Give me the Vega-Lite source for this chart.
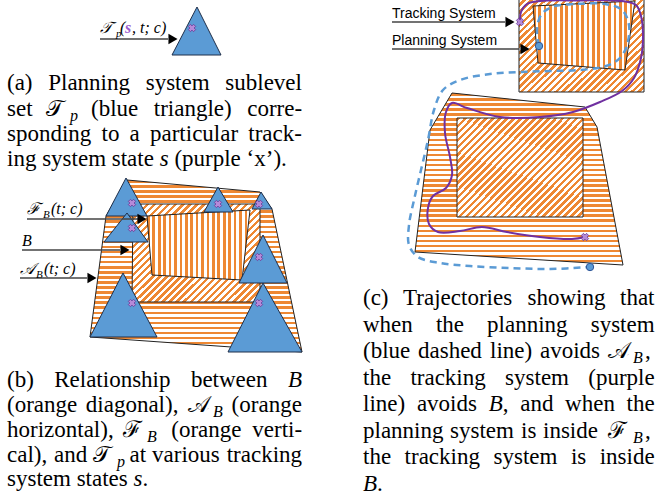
{
"$schema":"https://vega.github.io/schema/vega-lite/v6.json",
"width":661,"height":502,"autosize":{"type":"none"},"padding":0,"background":"white",
"config":{"view":{"stroke":null},
"style":{
"hs":{"fill":{"gradient":"linear","x1":0,"y1":0,"x2":0,"y2":1,"stops":[
{"offset":0,"color":"#e83"},{"offset":0.0147,"color":"#e83"},{"offset":0.0147,"color":"#fff"},{"offset":0.0294,"color":"#fff"},
{"offset":0.0294,"color":"#e83"},{"offset":0.0441,"color":"#e83"},{"offset":0.0441,"color":"#fff"},{"offset":0.0588,"color":"#fff"},
{"offset":0.0588,"color":"#e83"},{"offset":0.0735,"color":"#e83"},{"offset":0.0735,"color":"#fff"},{"offset":0.0882,"color":"#fff"},
{"offset":0.0882,"color":"#e83"},{"offset":0.1029,"color":"#e83"},{"offset":0.1029,"color":"#fff"},{"offset":0.1176,"color":"#fff"},
{"offset":0.1176,"color":"#e83"},{"offset":0.1324,"color":"#e83"},{"offset":0.1324,"color":"#fff"},{"offset":0.1471,"color":"#fff"},
{"offset":0.1471,"color":"#e83"},{"offset":0.1618,"color":"#e83"},{"offset":0.1618,"color":"#fff"},{"offset":0.1765,"color":"#fff"},
{"offset":0.1765,"color":"#e83"},{"offset":0.1912,"color":"#e83"},{"offset":0.1912,"color":"#fff"},{"offset":0.2059,"color":"#fff"},
{"offset":0.2059,"color":"#e83"},{"offset":0.2206,"color":"#e83"},{"offset":0.2206,"color":"#fff"},{"offset":0.2353,"color":"#fff"},
{"offset":0.2353,"color":"#e83"},{"offset":0.25,"color":"#e83"},{"offset":0.25,"color":"#fff"},{"offset":0.2647,"color":"#fff"},
{"offset":0.2647,"color":"#e83"},{"offset":0.2794,"color":"#e83"},{"offset":0.2794,"color":"#fff"},{"offset":0.2941,"color":"#fff"},
{"offset":0.2941,"color":"#e83"},{"offset":0.3088,"color":"#e83"},{"offset":0.3088,"color":"#fff"},{"offset":0.3235,"color":"#fff"},
{"offset":0.3235,"color":"#e83"},{"offset":0.3382,"color":"#e83"},{"offset":0.3382,"color":"#fff"},{"offset":0.3529,"color":"#fff"},
{"offset":0.3529,"color":"#e83"},{"offset":0.3676,"color":"#e83"},{"offset":0.3676,"color":"#fff"},{"offset":0.3824,"color":"#fff"},
{"offset":0.3824,"color":"#e83"},{"offset":0.3971,"color":"#e83"},{"offset":0.3971,"color":"#fff"},{"offset":0.4118,"color":"#fff"},
{"offset":0.4118,"color":"#e83"},{"offset":0.4265,"color":"#e83"},{"offset":0.4265,"color":"#fff"},{"offset":0.4412,"color":"#fff"},
{"offset":0.4412,"color":"#e83"},{"offset":0.4559,"color":"#e83"},{"offset":0.4559,"color":"#fff"},{"offset":0.4706,"color":"#fff"},
{"offset":0.4706,"color":"#e83"},{"offset":0.4853,"color":"#e83"},{"offset":0.4853,"color":"#fff"},{"offset":0.5,"color":"#fff"},
{"offset":0.5,"color":"#e83"},{"offset":0.5147,"color":"#e83"},{"offset":0.5147,"color":"#fff"},{"offset":0.5294,"color":"#fff"},
{"offset":0.5294,"color":"#e83"},{"offset":0.5441,"color":"#e83"},{"offset":0.5441,"color":"#fff"},{"offset":0.5588,"color":"#fff"},
{"offset":0.5588,"color":"#e83"},{"offset":0.5735,"color":"#e83"},{"offset":0.5735,"color":"#fff"},{"offset":0.5882,"color":"#fff"},
{"offset":0.5882,"color":"#e83"},{"offset":0.6029,"color":"#e83"},{"offset":0.6029,"color":"#fff"},{"offset":0.6176,"color":"#fff"},
{"offset":0.6176,"color":"#e83"},{"offset":0.6324,"color":"#e83"},{"offset":0.6324,"color":"#fff"},{"offset":0.6471,"color":"#fff"},
{"offset":0.6471,"color":"#e83"},{"offset":0.6618,"color":"#e83"},{"offset":0.6618,"color":"#fff"},{"offset":0.6765,"color":"#fff"},
{"offset":0.6765,"color":"#e83"},{"offset":0.6912,"color":"#e83"},{"offset":0.6912,"color":"#fff"},{"offset":0.7059,"color":"#fff"},
{"offset":0.7059,"color":"#e83"},{"offset":0.7206,"color":"#e83"},{"offset":0.7206,"color":"#fff"},{"offset":0.7353,"color":"#fff"},
{"offset":0.7353,"color":"#e83"},{"offset":0.75,"color":"#e83"},{"offset":0.75,"color":"#fff"},{"offset":0.7647,"color":"#fff"},
{"offset":0.7647,"color":"#e83"},{"offset":0.7794,"color":"#e83"},{"offset":0.7794,"color":"#fff"},{"offset":0.7941,"color":"#fff"},
{"offset":0.7941,"color":"#e83"},{"offset":0.8088,"color":"#e83"},{"offset":0.8088,"color":"#fff"},{"offset":0.8235,"color":"#fff"},
{"offset":0.8235,"color":"#e83"},{"offset":0.8382,"color":"#e83"},{"offset":0.8382,"color":"#fff"},{"offset":0.8529,"color":"#fff"},
{"offset":0.8529,"color":"#e83"},{"offset":0.8676,"color":"#e83"},{"offset":0.8676,"color":"#fff"},{"offset":0.8824,"color":"#fff"},
{"offset":0.8824,"color":"#e83"},{"offset":0.8971,"color":"#e83"},{"offset":0.8971,"color":"#fff"},{"offset":0.9118,"color":"#fff"},
{"offset":0.9118,"color":"#e83"},{"offset":0.9265,"color":"#e83"},{"offset":0.9265,"color":"#fff"},{"offset":0.9412,"color":"#fff"},
{"offset":0.9412,"color":"#e83"},{"offset":0.9559,"color":"#e83"},{"offset":0.9559,"color":"#fff"},{"offset":0.9706,"color":"#fff"},
{"offset":0.9706,"color":"#e83"},{"offset":0.9853,"color":"#e83"},{"offset":0.9853,"color":"#fff"},{"offset":1,"color":"#fff"}]}},
"vs":{"fill":{"gradient":"linear","x1":0,"y1":0,"x2":1,"y2":0,"stops":[
{"offset":0,"color":"#e83"},{"offset":0.0263,"color":"#e83"},{"offset":0.0263,"color":"#fff"},{"offset":0.0526,"color":"#fff"},
{"offset":0.0526,"color":"#e83"},{"offset":0.0789,"color":"#e83"},{"offset":0.0789,"color":"#fff"},{"offset":0.1053,"color":"#fff"},
{"offset":0.1053,"color":"#e83"},{"offset":0.1316,"color":"#e83"},{"offset":0.1316,"color":"#fff"},{"offset":0.1579,"color":"#fff"},
{"offset":0.1579,"color":"#e83"},{"offset":0.1842,"color":"#e83"},{"offset":0.1842,"color":"#fff"},{"offset":0.2105,"color":"#fff"},
{"offset":0.2105,"color":"#e83"},{"offset":0.2368,"color":"#e83"},{"offset":0.2368,"color":"#fff"},{"offset":0.2632,"color":"#fff"},
{"offset":0.2632,"color":"#e83"},{"offset":0.2895,"color":"#e83"},{"offset":0.2895,"color":"#fff"},{"offset":0.3158,"color":"#fff"},
{"offset":0.3158,"color":"#e83"},{"offset":0.3421,"color":"#e83"},{"offset":0.3421,"color":"#fff"},{"offset":0.3684,"color":"#fff"},
{"offset":0.3684,"color":"#e83"},{"offset":0.3947,"color":"#e83"},{"offset":0.3947,"color":"#fff"},{"offset":0.4211,"color":"#fff"},
{"offset":0.4211,"color":"#e83"},{"offset":0.4474,"color":"#e83"},{"offset":0.4474,"color":"#fff"},{"offset":0.4737,"color":"#fff"},
{"offset":0.4737,"color":"#e83"},{"offset":0.5,"color":"#e83"},{"offset":0.5,"color":"#fff"},{"offset":0.5263,"color":"#fff"},
{"offset":0.5263,"color":"#e83"},{"offset":0.5526,"color":"#e83"},{"offset":0.5526,"color":"#fff"},{"offset":0.5789,"color":"#fff"},
{"offset":0.5789,"color":"#e83"},{"offset":0.6053,"color":"#e83"},{"offset":0.6053,"color":"#fff"},{"offset":0.6316,"color":"#fff"},
{"offset":0.6316,"color":"#e83"},{"offset":0.6579,"color":"#e83"},{"offset":0.6579,"color":"#fff"},{"offset":0.6842,"color":"#fff"},
{"offset":0.6842,"color":"#e83"},{"offset":0.7105,"color":"#e83"},{"offset":0.7105,"color":"#fff"},{"offset":0.7368,"color":"#fff"},
{"offset":0.7368,"color":"#e83"},{"offset":0.7632,"color":"#e83"},{"offset":0.7632,"color":"#fff"},{"offset":0.7895,"color":"#fff"},
{"offset":0.7895,"color":"#e83"},{"offset":0.8158,"color":"#e83"},{"offset":0.8158,"color":"#fff"},{"offset":0.8421,"color":"#fff"},
{"offset":0.8421,"color":"#e83"},{"offset":0.8684,"color":"#e83"},{"offset":0.8684,"color":"#fff"},{"offset":0.8947,"color":"#fff"},
{"offset":0.8947,"color":"#e83"},{"offset":0.9211,"color":"#e83"},{"offset":0.9211,"color":"#fff"},{"offset":0.9474,"color":"#fff"},
{"offset":0.9474,"color":"#e83"},{"offset":0.9737,"color":"#e83"},{"offset":0.9737,"color":"#fff"},{"offset":1,"color":"#fff"}]}},
"ds":{"fill":{"gradient":"linear","x1":0,"y1":0,"x2":1.11,"y2":0.855,"stops":[
{"offset":0,"color":"#e83"},{"offset":0.0156,"color":"#e83"},{"offset":0.0156,"color":"#fff"},{"offset":0.0313,"color":"#fff"},
{"offset":0.0313,"color":"#e83"},{"offset":0.0469,"color":"#e83"},{"offset":0.0469,"color":"#fff"},{"offset":0.0625,"color":"#fff"},
{"offset":0.0625,"color":"#e83"},{"offset":0.0781,"color":"#e83"},{"offset":0.0781,"color":"#fff"},{"offset":0.0938,"color":"#fff"},
{"offset":0.0938,"color":"#e83"},{"offset":0.1094,"color":"#e83"},{"offset":0.1094,"color":"#fff"},{"offset":0.125,"color":"#fff"},
{"offset":0.125,"color":"#e83"},{"offset":0.1406,"color":"#e83"},{"offset":0.1406,"color":"#fff"},{"offset":0.1563,"color":"#fff"},
{"offset":0.1563,"color":"#e83"},{"offset":0.1719,"color":"#e83"},{"offset":0.1719,"color":"#fff"},{"offset":0.1875,"color":"#fff"},
{"offset":0.1875,"color":"#e83"},{"offset":0.2031,"color":"#e83"},{"offset":0.2031,"color":"#fff"},{"offset":0.2188,"color":"#fff"},
{"offset":0.2188,"color":"#e83"},{"offset":0.2344,"color":"#e83"},{"offset":0.2344,"color":"#fff"},{"offset":0.25,"color":"#fff"},
{"offset":0.25,"color":"#e83"},{"offset":0.2656,"color":"#e83"},{"offset":0.2656,"color":"#fff"},{"offset":0.2813,"color":"#fff"},
{"offset":0.2813,"color":"#e83"},{"offset":0.2969,"color":"#e83"},{"offset":0.2969,"color":"#fff"},{"offset":0.3125,"color":"#fff"},
{"offset":0.3125,"color":"#e83"},{"offset":0.3281,"color":"#e83"},{"offset":0.3281,"color":"#fff"},{"offset":0.3438,"color":"#fff"},
{"offset":0.3438,"color":"#e83"},{"offset":0.3594,"color":"#e83"},{"offset":0.3594,"color":"#fff"},{"offset":0.375,"color":"#fff"},
{"offset":0.375,"color":"#e83"},{"offset":0.3906,"color":"#e83"},{"offset":0.3906,"color":"#fff"},{"offset":0.4063,"color":"#fff"},
{"offset":0.4063,"color":"#e83"},{"offset":0.4219,"color":"#e83"},{"offset":0.4219,"color":"#fff"},{"offset":0.4375,"color":"#fff"},
{"offset":0.4375,"color":"#e83"},{"offset":0.4531,"color":"#e83"},{"offset":0.4531,"color":"#fff"},{"offset":0.4688,"color":"#fff"},
{"offset":0.4688,"color":"#e83"},{"offset":0.4844,"color":"#e83"},{"offset":0.4844,"color":"#fff"},{"offset":0.5,"color":"#fff"},
{"offset":0.5,"color":"#e83"},{"offset":0.5156,"color":"#e83"},{"offset":0.5156,"color":"#fff"},{"offset":0.5313,"color":"#fff"},
{"offset":0.5313,"color":"#e83"},{"offset":0.5469,"color":"#e83"},{"offset":0.5469,"color":"#fff"},{"offset":0.5625,"color":"#fff"},
{"offset":0.5625,"color":"#e83"},{"offset":0.5781,"color":"#e83"},{"offset":0.5781,"color":"#fff"},{"offset":0.5938,"color":"#fff"},
{"offset":0.5938,"color":"#e83"},{"offset":0.6094,"color":"#e83"},{"offset":0.6094,"color":"#fff"},{"offset":0.625,"color":"#fff"},
{"offset":0.625,"color":"#e83"},{"offset":0.6406,"color":"#e83"},{"offset":0.6406,"color":"#fff"},{"offset":0.6563,"color":"#fff"},
{"offset":0.6563,"color":"#e83"},{"offset":0.6719,"color":"#e83"},{"offset":0.6719,"color":"#fff"},{"offset":0.6875,"color":"#fff"},
{"offset":0.6875,"color":"#e83"},{"offset":0.7031,"color":"#e83"},{"offset":0.7031,"color":"#fff"},{"offset":0.7188,"color":"#fff"},
{"offset":0.7188,"color":"#e83"},{"offset":0.7344,"color":"#e83"},{"offset":0.7344,"color":"#fff"},{"offset":0.75,"color":"#fff"},
{"offset":0.75,"color":"#e83"},{"offset":0.7656,"color":"#e83"},{"offset":0.7656,"color":"#fff"},{"offset":0.7813,"color":"#fff"},
{"offset":0.7813,"color":"#e83"},{"offset":0.7969,"color":"#e83"},{"offset":0.7969,"color":"#fff"},{"offset":0.8125,"color":"#fff"},
{"offset":0.8125,"color":"#e83"},{"offset":0.8281,"color":"#e83"},{"offset":0.8281,"color":"#fff"},{"offset":0.8438,"color":"#fff"},
{"offset":0.8438,"color":"#e83"},{"offset":0.8594,"color":"#e83"},{"offset":0.8594,"color":"#fff"},{"offset":0.875,"color":"#fff"},
{"offset":0.875,"color":"#e83"},{"offset":0.8906,"color":"#e83"},{"offset":0.8906,"color":"#fff"},{"offset":0.9063,"color":"#fff"},
{"offset":0.9063,"color":"#e83"},{"offset":0.9219,"color":"#e83"},{"offset":0.9219,"color":"#fff"},{"offset":0.9375,"color":"#fff"},
{"offset":0.9375,"color":"#e83"},{"offset":0.9531,"color":"#e83"},{"offset":0.9531,"color":"#fff"},{"offset":0.9688,"color":"#fff"},
{"offset":0.9688,"color":"#e83"},{"offset":0.9844,"color":"#e83"},{"offset":0.9844,"color":"#fff"},{"offset":1,"color":"#fff"}]}}
}},
"datasets":{
"s":[
{"g":"ab_c","o":1,"x":452,"y":93},{"g":"ab_c","o":2,"x":585,"y":107},{"g":"ab_c","o":3,"x":597,"y":127},{"g":"ab_c","o":4,"x":623,"y":265},{"g":"ab_c","o":5,"x":415,"y":252},{"g":"ab_c","o":6,"x":430,"y":130},{"g":"ab_c","o":7,"x":452,"y":93},
{"g":"b_c","o":1,"x":457,"y":118},{"g":"b_c","o":2,"x":583,"y":118},{"g":"b_c","o":3,"x":583,"y":217},{"g":"b_c","o":4,"x":457,"y":217},{"g":"b_c","o":5,"x":457,"y":118},
{"g":"box_c","o":1,"x":519,"y":-3},{"g":"box_c","o":2,"x":644,"y":-3},{"g":"box_c","o":3,"x":644,"y":92},{"g":"box_c","o":4,"x":519,"y":92},{"g":"box_c","o":5,"x":519,"y":-3},
{"g":"fb_c","o":1,"x":533,"y":6},{"g":"fb_c","o":2,"x":635,"y":1},{"g":"fb_c","o":3,"x":625,"y":70},{"g":"fb_c","o":4,"x":538,"y":63},{"g":"fb_c","o":5,"x":533,"y":6},
{"g":"ab_b","o":1,"x":127,"y":180},{"g":"ab_b","o":2,"x":260,"y":192},{"g":"ab_b","o":3,"x":272,"y":209},{"g":"ab_b","o":4,"x":302,"y":352},{"g":"ab_b","o":5,"x":90,"y":337},{"g":"ab_b","o":6,"x":106,"y":216},{"g":"ab_b","o":7,"x":127,"y":180},
{"g":"b_b","o":1,"x":133,"y":204},{"g":"b_b","o":2,"x":260,"y":204},{"g":"b_b","o":3,"x":260,"y":302},{"g":"b_b","o":4,"x":132,"y":302},{"g":"b_b","o":5,"x":133,"y":204},
{"g":"fb_b","o":1,"x":147,"y":216},{"g":"fb_b","o":2,"x":250,"y":210},{"g":"fb_b","o":3,"x":242,"y":280},{"g":"fb_b","o":4,"x":152,"y":275},{"g":"fb_b","o":5,"x":147,"y":216},
{"g":"tri0","o":1,"x":197,"y":7},{"g":"tri0","o":2,"x":221,"y":55},{"g":"tri0","o":3,"x":172,"y":55},{"g":"tri0","o":4,"x":197,"y":7},
{"g":"tri1","o":1,"x":126,"y":178},{"g":"tri1","o":2,"x":147,"y":216},{"g":"tri1","o":3,"x":106,"y":216},{"g":"tri1","o":4,"x":126,"y":178},
{"g":"tri2","o":1,"x":127,"y":213},{"g":"tri2","o":2,"x":148,"y":242},{"g":"tri2","o":3,"x":104,"y":242},{"g":"tri2","o":4,"x":127,"y":213},
{"g":"tri3","o":1,"x":218,"y":187},{"g":"tri3","o":2,"x":233,"y":212},{"g":"tri3","o":3,"x":204,"y":212},{"g":"tri3","o":4,"x":218,"y":187},
{"g":"tri4","o":1,"x":261,"y":192},{"g":"tri4","o":2,"x":272,"y":209},{"g":"tri4","o":3,"x":252,"y":209},{"g":"tri4","o":4,"x":261,"y":192},
{"g":"tri5","o":1,"x":263,"y":235},{"g":"tri5","o":2,"x":287,"y":283},{"g":"tri5","o":3,"x":239,"y":283},{"g":"tri5","o":4,"x":263,"y":235},
{"g":"tri6","o":1,"x":263,"y":283},{"g":"tri6","o":2,"x":302,"y":352},{"g":"tri6","o":3,"x":228,"y":352},{"g":"tri6","o":4,"x":263,"y":283},
{"g":"tri7","o":1,"x":123,"y":273},{"g":"tri7","o":2,"x":157,"y":337},{"g":"tri7","o":3,"x":90,"y":337},{"g":"tri7","o":4,"x":123,"y":273},
{"g":"plan","o":1,"x":539,"y":46},{"g":"plan","o":2,"x":537,"y":30},{"g":"plan","o":3,"x":541,"y":15},{"g":"plan","o":4,"x":552,"y":7},{"g":"plan","o":5,"x":575,"y":4},{"g":"plan","o":6,"x":605,"y":4},{"g":"plan","o":7,"x":622,"y":10},{"g":"plan","o":8,"x":629,"y":25},{"g":"plan","o":9,"x":627,"y":45},{"g":"plan","o":10,"x":620,"y":58},{"g":"plan","o":11,"x":606,"y":66},{"g":"plan","o":12,"x":580,"y":70},{"g":"plan","o":13,"x":550,"y":71},{"g":"plan","o":14,"x":520,"y":72},{"g":"plan","o":15,"x":490,"y":74},{"g":"plan","o":16,"x":460,"y":80},{"g":"plan","o":17,"x":443,"y":90},{"g":"plan","o":18,"x":434,"y":110},{"g":"plan","o":19,"x":428,"y":140},{"g":"plan","o":20,"x":421,"y":170},{"g":"plan","o":21,"x":414,"y":200},{"g":"plan","o":22,"x":409,"y":225},{"g":"plan","o":23,"x":409,"y":245},{"g":"plan","o":24,"x":418,"y":257},{"g":"plan","o":25,"x":440,"y":263},{"g":"plan","o":26,"x":470,"y":266},{"g":"plan","o":27,"x":510,"y":268},{"g":"plan","o":28,"x":550,"y":269},{"g":"plan","o":29,"x":590,"y":267},
{"g":"trk","o":1,"x":520,"y":22},{"g":"trk","o":2,"x":521,"y":12},{"g":"trk","o":3,"x":527,"y":4},{"g":"trk","o":4,"x":540,"y":1},{"g":"trk","o":5,"x":580,"y":0.5},{"g":"trk","o":6,"x":622,"y":1},{"g":"trk","o":7,"x":636,"y":5},{"g":"trk","o":8,"x":641,"y":16},{"g":"trk","o":9,"x":643,"y":35},{"g":"trk","o":10,"x":641,"y":58},{"g":"trk","o":11,"x":634,"y":78},{"g":"trk","o":12,"x":622,"y":91},{"g":"trk","o":13,"x":600,"y":102},{"g":"trk","o":14,"x":573,"y":112},{"g":"trk","o":15,"x":540,"y":117},{"g":"trk","o":16,"x":500,"y":117},{"g":"trk","o":17,"x":467,"y":108},{"g":"trk","o":18,"x":452,"y":103},{"g":"trk","o":19,"x":446,"y":112},{"g":"trk","o":20,"x":445,"y":133},{"g":"trk","o":21,"x":450,"y":157},{"g":"trk","o":22,"x":452,"y":175},{"g":"trk","o":23,"x":446,"y":188},{"g":"trk","o":24,"x":433,"y":196},{"g":"trk","o":25,"x":428,"y":208},{"g":"trk","o":26,"x":429,"y":224},{"g":"trk","o":27,"x":438,"y":232},{"g":"trk","o":28,"x":460,"y":231},{"g":"trk","o":29,"x":482,"y":227},{"g":"trk","o":30,"x":507,"y":232},{"g":"trk","o":31,"x":540,"y":237},{"g":"trk","o":32,"x":572,"y":239},{"g":"trk","o":33,"x":585,"y":237},
{"g":"a1","o":1,"x":100,"y":39},{"g":"a1","o":2,"x":168,"y":39},
{"g":"a2","o":1,"x":27,"y":219},{"g":"a2","o":2,"x":138,"y":219},
{"g":"a3","o":1,"x":22,"y":250},{"g":"a3","o":2,"x":120,"y":250},
{"g":"a4","o":1,"x":20,"y":278},{"g":"a4","o":2,"x":87,"y":278},
{"g":"a5","o":1,"x":392,"y":22},{"g":"a5","o":2,"x":505,"y":22},
{"g":"a6","o":1,"x":392,"y":49},{"g":"a6","o":2,"x":519,"y":49}
],
"p":[
{"g":"head","x":173,"y":39},{"g":"head","x":142,"y":219},{"g":"head","x":125,"y":250},{"g":"head","x":92,"y":278},{"g":"head","x":510,"y":22},{"g":"head","x":525,"y":49},
{"g":"xm","x":192,"y":28},{"g":"xm","x":132,"y":203},{"g":"xm","x":132,"y":228},{"g":"xm","x":218,"y":204},{"g":"xm","x":259,"y":204},{"g":"xm","x":259,"y":257},{"g":"xm","x":259,"y":303},{"g":"xm","x":132,"y":303},{"g":"xm","x":520,"y":22},{"g":"xm","x":585,"y":237},
{"g":"dot","x":539,"y":46},{"g":"dot","x":590,"y":267}
],
"t":[
{"g":"cap","x":7,"y":90,"t":"(a)"},{"g":"cap","x":48.2,"y":90,"t":"Planning"},{"g":"cap","x":145.7,"y":90,"t":"system"},{"g":"cap","x":225.3,"y":90,"t":"sublevel"},
{"g":"cap","x":7,"y":115.5,"t":"set"},{"g":"cap","x":46,"y":115.5,"t":"𝒯"},{"g":"capsub","x":70,"y":120.5,"t":"p"},{"g":"cap","x":91,"y":115.5,"t":"(blue"},{"g":"cap","x":153.8,"y":115.5,"t":"triangle)"},{"g":"cap","x":247.2,"y":115.5,"t":"corre-"},
{"g":"cap","x":7,"y":141,"t":"sponding"},{"g":"cap","x":101.5,"y":141,"t":"to"},{"g":"cap","x":129.6,"y":141,"t":"a"},{"g":"cap","x":150,"y":141,"t":"particular"},{"g":"cap","x":248.3,"y":141,"t":"track-"},
{"g":"cap","x":7,"y":166,"t":"ing system state"},{"g":"capi","x":159.7,"y":166,"t":"s"},{"g":"cap","x":174.4,"y":166,"t":"(purple ‘x’)."},
{"g":"cap","x":7,"y":387,"t":"(b)"},{"g":"cap","x":54.2,"y":387,"t":"Relationship"},{"g":"cap","x":190.9,"y":387,"t":"between"},{"g":"capi","x":287.9,"y":387,"t":"B"},
{"g":"cap","x":7,"y":412,"t":"(orange"},{"g":"cap","x":85.8,"y":412,"t":"diagonal),"},{"g":"cap","x":188,"y":412,"t":"𝒜"},{"g":"capsub","x":213,"y":417,"t":"B"},{"g":"cap","x":231.6,"y":412,"t":"(orange"},
{"g":"cap","x":7,"y":437,"t":"horizontal),"},{"g":"cap","x":123,"y":437,"t":"ℱ"},{"g":"capsub","x":147,"y":442,"t":"B"},{"g":"cap","x":171.3,"y":437,"t":"(orange"},{"g":"cap","x":252.3,"y":437,"t":"verti-"},
{"g":"cap","x":7,"y":462,"t":"cal),"},{"g":"cap","x":54.1,"y":462,"t":"and"},{"g":"cap","x":93,"y":462,"t":"𝒯"},{"g":"capsub","x":117,"y":467,"t":"p"},{"g":"cap","x":129.5,"y":462,"t":"at"},{"g":"cap","x":152.1,"y":462,"t":"various"},{"g":"cap","x":226.7,"y":462,"t":"tracking"},
{"g":"cap","x":7,"y":486,"t":"system states"},{"g":"capi","x":133.5,"y":486,"t":"s"},{"g":"cap","x":142.4,"y":486,"t":"."},
{"g":"cap","x":363,"y":305,"t":"(c)"},{"g":"cap","x":403.1,"y":305,"t":"Trajectories"},{"g":"cap","x":527.5,"y":305,"t":"showing"},{"g":"cap","x":620,"y":305,"t":"that"},
{"g":"cap","x":363,"y":331.5,"t":"when"},{"g":"cap","x":435.9,"y":331.5,"t":"the"},{"g":"cap","x":487.1,"y":331.5,"t":"planning"},{"g":"cap","x":590.7,"y":331.5,"t":"system"},
{"g":"cap","x":363,"y":358,"t":"(blue"},{"g":"cap","x":418,"y":358,"t":"dashed"},{"g":"cap","x":490,"y":358,"t":"line)"},{"g":"cap","x":540,"y":358,"t":"avoids"},{"g":"cap","x":608,"y":358,"t":"𝒜"},{"g":"capsub","x":633,"y":363,"t":"B"},{"g":"cap","x":645,"y":358,"t":","},
{"g":"cap","x":363,"y":384.5,"t":"the"},{"g":"cap","x":410.4,"y":384.5,"t":"tracking"},{"g":"cap","x":505.1,"y":384.5,"t":"system"},{"g":"cap","x":588.3,"y":384.5,"t":"(purple"},
{"g":"cap","x":363,"y":411,"t":"line)"},{"g":"cap","x":416.9,"y":411,"t":"avoids"},{"g":"capi","x":488.7,"y":411,"t":"B"},{"g":"cap","x":502.8,"y":411,"t":","},{"g":"cap","x":520.2,"y":411,"t":"and"},{"g":"cap","x":565.1,"y":411,"t":"when"},{"g":"cap","x":626.6,"y":411,"t":"the"},
{"g":"cap","x":363,"y":437.5,"t":"planning"},{"g":"cap","x":450,"y":437.5,"t":"system"},{"g":"cap","x":521,"y":437.5,"t":"is"},{"g":"cap","x":543,"y":437.5,"t":"inside"},{"g":"cap","x":608,"y":437.5,"t":"ℱ"},{"g":"capsub","x":633,"y":442.5,"t":"B"},{"g":"cap","x":645,"y":437.5,"t":","},
{"g":"cap","x":363,"y":464,"t":"the"},{"g":"cap","x":404.6,"y":464,"t":"tracking"},{"g":"cap","x":493.5,"y":464,"t":"system"},{"g":"cap","x":570.9,"y":464,"t":"is"},{"g":"cap","x":599.7,"y":464,"t":"inside"},
{"g":"capi","x":363,"y":490.5,"t":"B"},{"g":"cap","x":377,"y":490.5,"t":"."},
{"g":"lab","x":100,"y":33,"t":"𝒯"},{"g":"lab","x":120,"y":33,"t":"("},{"g":"lab","x":132,"y":33,"t":", t; c)"},
{"g":"lab","x":27,"y":214,"t":"ℱ"},{"g":"lab","x":51,"y":214,"t":"(t; c)"},
{"g":"lab","x":22,"y":246,"t":"B"},
{"g":"lab","x":20,"y":274,"t":"𝒜"},{"g":"lab","x":44,"y":274,"t":"(t; c)"},
{"g":"sub","x":116,"y":37,"t":"p"},{"g":"sub","x":43,"y":218,"t":"B"},{"g":"sub","x":36,"y":278,"t":"B"},
{"g":"sv","x":125,"y":33,"t":"s"},
{"g":"sans","x":392,"y":18,"t":"Tracking System"},{"g":"sans","x":392,"y":45,"t":"Planning System"}
]},
"encoding":{
"x":{"field":"x","type":"quantitative","scale":{"domain":[0,661],"nice":false,"zero":false},"axis":null},
"y":{"field":"y","type":"quantitative","scale":{"domain":[0,502],"nice":false,"zero":false,"reverse":true},"axis":null}
},
"layer":[
{"data":{"name":"s"},"transform":[{"filter":"datum.g=='ab_c'||datum.g=='ab_b'"}],"mark":{"type":"line","style":"hs","stroke":"#222","strokeWidth":1},"encoding":{"order":{"field":"o"},"detail":{"field":"g"}}},
{"data":{"name":"s"},"transform":[{"filter":"datum.g=='b_c'||datum.g=='box_c'||datum.g=='b_b'"}],"mark":{"type":"line","style":"ds","stroke":"#222","strokeWidth":1},"encoding":{"order":{"field":"o"},"detail":{"field":"g"}}},
{"data":{"name":"s"},"transform":[{"filter":"datum.g=='fb_c'||datum.g=='fb_b'"}],"mark":{"type":"line","style":"vs","stroke":"#222","strokeWidth":1},"encoding":{"order":{"field":"o"},"detail":{"field":"g"}}},
{"data":{"name":"s"},"transform":[{"filter":"indexof(datum.g,'tri')==0"}],"mark":{"type":"line","fill":"#5b9bd5","stroke":"#1f2f4a","strokeWidth":1},"encoding":{"order":{"field":"o"},"detail":{"field":"g"}}},
{"data":{"name":"s"},"transform":[{"filter":"datum.g=='plan'"}],"mark":{"type":"line","interpolate":"catmull-rom","stroke":"#5b9bd5","strokeWidth":2.5,"strokeDash":[7,5]},"encoding":{"order":{"field":"o"}}},
{"data":{"name":"s"},"transform":[{"filter":"datum.g=='trk'"}],"mark":{"type":"line","interpolate":"catmull-rom","stroke":"#7030a0","strokeWidth":2},"encoding":{"order":{"field":"o"}}},
{"data":{"name":"s"},"transform":[{"filter":"indexof(datum.g,'a')==0 && length(datum.g)==2"}],"mark":{"type":"line","stroke":"#444","strokeWidth":1.3},"encoding":{"order":{"field":"o"},"detail":{"field":"g"}}},
{"data":{"name":"p"},"transform":[{"filter":"datum.g=='head'"}],"mark":{"type":"point","shape":"triangle-right","filled":true,"fill":"#000","size":110,"strokeWidth":0,"opacity":1}},
{"data":{"name":"p"},"transform":[{"filter":"datum.g=='xm'"}],"mark":{"type":"point","shape":"cross","angle":45,"filled":true,"fill":"#b58ad8","stroke":"#6a3d9a","strokeWidth":0.8,"size":55,"opacity":1}},
{"data":{"name":"p"},"transform":[{"filter":"datum.g=='dot'"}],"mark":{"type":"point","shape":"circle","filled":true,"fill":"#5b9bd5","stroke":"#2f5597","strokeWidth":1,"size":55,"opacity":1}},
{"data":{"name":"t"},"transform":[{"filter":"datum.g=='cap'"}],"mark":{"type":"text","font":"Liberation Serif","fontSize":23,"align":"left","baseline":"alphabetic","color":"#000"},"encoding":{"text":{"field":"t"}}},
{"data":{"name":"t"},"transform":[{"filter":"datum.g=='capi'"}],"mark":{"type":"text","font":"Liberation Serif","fontStyle":"italic","fontSize":23,"align":"left","baseline":"alphabetic","color":"#000"},"encoding":{"text":{"field":"t"}}},
{"data":{"name":"t"},"transform":[{"filter":"datum.g=='capsub'"}],"mark":{"type":"text","font":"Liberation Serif","fontStyle":"italic","fontSize":16,"align":"left","baseline":"alphabetic","color":"#000"},"encoding":{"text":{"field":"t"}}},
{"data":{"name":"t"},"transform":[{"filter":"datum.g=='lab'"}],"mark":{"type":"text","font":"Liberation Serif","fontStyle":"italic","fontSize":16,"align":"left","baseline":"alphabetic","color":"#000"},"encoding":{"text":{"field":"t"}}},
{"data":{"name":"t"},"transform":[{"filter":"datum.g=='sub'"}],"mark":{"type":"text","font":"Liberation Serif","fontStyle":"italic","fontSize":11,"align":"left","baseline":"alphabetic","color":"#000"},"encoding":{"text":{"field":"t"}}},
{"data":{"name":"t"},"transform":[{"filter":"datum.g=='sv'"}],"mark":{"type":"text","font":"Liberation Serif","fontStyle":"italic","fontWeight":"bold","fontSize":16,"align":"left","baseline":"alphabetic","color":"#9b5fd1"},"encoding":{"text":{"field":"t"}}},
{"data":{"name":"t"},"transform":[{"filter":"datum.g=='sans'"}],"mark":{"type":"text","font":"Liberation Sans","fontSize":14,"align":"left","baseline":"alphabetic","color":"#000"},"encoding":{"text":{"field":"t"}}}
]
}
